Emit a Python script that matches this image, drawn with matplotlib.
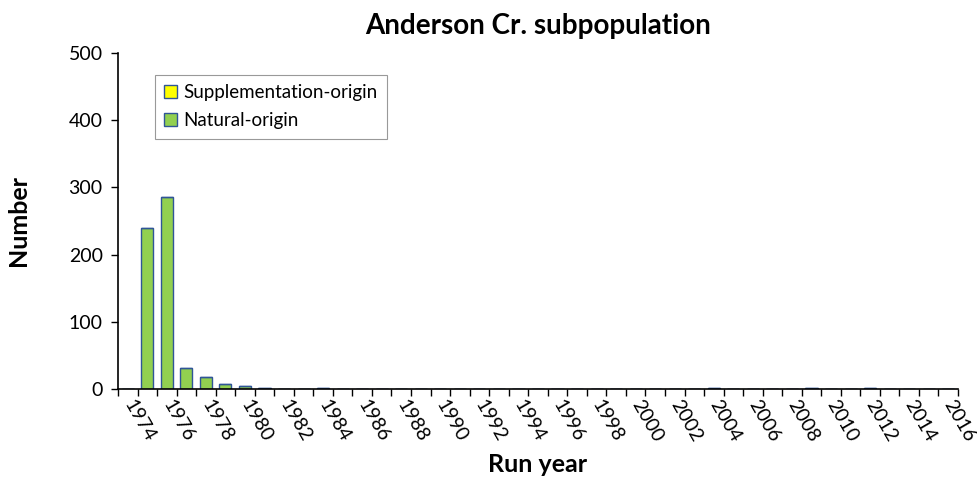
import matplotlib.pyplot as plt
import numpy as np

# run years and counts
years = list(range(1974, 2017))
natural = {1975: 240, 1976: 285, 1977: 31, 1978: 18, 1979: 7, 1980: 5,
           1981: 1, 1984: 1, 2004: 1, 2009: 1, 2012: 1}
supplementation = {}

nat_vals = [natural.get(y, 0) for y in years]
sup_vals = [supplementation.get(y, 0) for y in years]

plt.rcParams['font.family'] = ['Lato', 'DejaVu Sans']

fig = plt.figure(figsize=(9.77, 4.78), dpi=100)
ax = fig.add_axes([118 / 977, 89 / 478, 840 / 977, 336 / 478])

x = np.array(years)
ax.bar(x, nat_vals, width=0.62, color="#92D050", edgecolor="#2F5597",
       linewidth=1.0, label="Natural-origin")
ax.bar(x, sup_vals, bottom=nat_vals, width=0.62, color="#FFFF00",
       edgecolor="#2F5597", linewidth=1.0, label="Supplementation-origin")

ax.set_xlim(1973.5, 2016.5)
ax.set_ylim(0, 500)
ax.set_yticks(range(0, 501, 100))
ax.tick_params(axis='y', labelsize=14, direction='out', length=5, width=1, pad=6)

# category boundary ticks, labels every second year
ax.set_xticks(np.arange(1973.5, 2017, 1.0))
ax.set_xticklabels([])
ax.tick_params(axis='x', direction='out', length=5, width=1)
ax.set_xticks(years[::2], minor=True)
ax.set_xticklabels([str(y) for y in years[::2]], minor=True, rotation=-60,
                   ha='left', va='center', rotation_mode='anchor', fontsize=14)
ax.tick_params(axis='x', which='minor', length=0, pad=9)

for s in ['top', 'right']:
    ax.spines[s].set_visible(False)
ax.spines['left'].set_linewidth(1.2)
ax.spines['bottom'].set_linewidth(1.2)

ax.set_title("Anderson Cr. subpopulation", fontsize=20, fontweight='bold', pad=14)
ax.set_xlabel("Run year", fontsize=18, fontweight='bold', labelpad=6)
ax.set_ylabel("Number", fontsize=18, fontweight='bold', labelpad=28)

h, l = ax.get_legend_handles_labels()
leg = ax.legend(h[::-1], l[::-1], loc='upper left', bbox_to_anchor=(0.044, 0.935),
                fontsize=13.5, fancybox=False, edgecolor='#808080',
                handlelength=0.7, handleheight=0.7, handletextpad=0.3,
                borderpad=0.5, labelspacing=0.6, borderaxespad=0)
leg.get_frame().set_linewidth(0.8)

fig.savefig("out.png", dpi=100)
